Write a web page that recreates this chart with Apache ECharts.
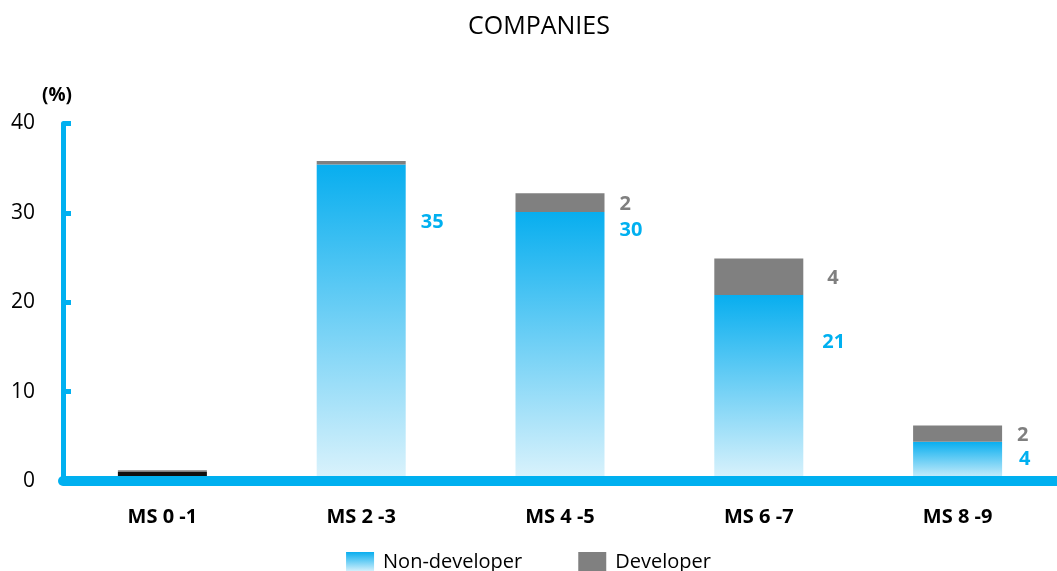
<!DOCTYPE html>
<html>
<head>
<meta charset="utf-8">
<script src="https://cdn.jsdelivr.net/npm/echarts@6/dist/echarts.min.js"></script>
<style>
  html, body { margin: 0; padding: 0; background: #fff; }
  #chart { width: 1057px; height: 571px; }
</style>
</head>
<body>
<div id="chart"></div>
<script>
// data
const categories = ['MS 0 -1', 'MS 2 -3', 'MS 4 -5', 'MS 6 -7', 'MS 8 -9']
const nonDeveloper = [1.0, 35.4, 30.1, 20.8, 4.4]
const developer = [0.2, 0.4, 2.1, 4.1, 1.8]
const yTicks = [0, 10, 20, 30, 40]

// which bars carry a value label
const showNonDevLabel = [false, true, true, true, true]
const showDevLabel = [false, false, true, true, true]
// label nudges (Excel placed them by hand)
const nonDevOffsets = [[0, 0], [10, -101], [10, -116], [14, -46], [12, -2]]
const devOffsets = [[0, 0], [0, 0], [10, 2], [19, 2], [10, 2]]

const BLUE = '#00B0F0'
const GREY = '#808080'
const FONT = 'Open Sans'

const blueGradient = {
  type: 'linear', x: 0, y: 0, x2: 0, y2: 1,
  colorStops: [
    { offset: 0, color: '#08AEEF' },
    { offset: 1, color: '#DCF3FC' }
  ]
}

const chart = echarts.init(document.getElementById('chart'))

const labelStyle = (color) => ({
  position: 'right',
  distance: 5,
  color: color,
  fontFamily: FONT,
  fontWeight: 'bold',
  fontSize: 20,
  formatter: (p) => Math.round(p.value)
})

const nonDevData = nonDeveloper.map((v, i) => ({
  value: v,
  itemStyle: i === 0 ? { color: '#111' } : undefined,
  label: { show: showNonDevLabel[i], offset: nonDevOffsets[i] }
}))

const devData = developer.map((v, i) => ({
  value: v,
  label: { show: showDevLabel[i], offset: devOffsets[i] }
}))

const option = {
  animation: false,
  title: {
    text: 'COMPANIES',
    left: 463,
    top: 9,
    textStyle: { fontFamily: FONT, fontSize: 25, fontWeight: 'normal', color: '#000' }
  },
  legend: {
    top: 547,
    left: 'center',
    itemWidth: 28,
    itemHeight: 20,
    itemGap: 56,
    icon: 'rect',
    textStyle: { fontFamily: FONT, fontSize: 20, color: '#000', padding: [0, 0, 0, 4] },
    data: ['Non-developer', 'Developer']
  },
  grid: { left: 63, right: -8, top: 123.5, bottom: 90, containLabel: false },
  xAxis: {
    type: 'category',
    data: categories,
    z: 5,
    axisLine: { show: true, lineStyle: { color: BLUE, width: 10 } },
    axisTick: { show: false },
    axisLabel: {
      margin: 26,
      fontFamily: FONT,
      fontSize: 20,
      fontWeight: 'bold',
      color: '#000'
    }
  },
  yAxis: {
    type: 'value',
    min: yTicks[0],
    max: yTicks[yTicks.length - 1],
    interval: 10,
    name: '(%)',
    nameLocation: 'end',
    nameGap: 18,
    nameTextStyle: {
      fontFamily: FONT, fontSize: 19, fontWeight: 'bold', color: '#000',
      padding: [0, 12, 0, 0]
    },
    axisLine: { show: true, lineStyle: { color: BLUE, width: 5 } },
    axisTick: { show: true, inside: true, length: 8, lineStyle: { color: BLUE, width: 5 } },
    splitLine: { show: false },
    axisLabel: { margin: 28, fontFamily: FONT, fontSize: 21, color: '#000' }
  },
  series: [
    {
      name: 'Non-developer',
      type: 'bar',
      stack: 'total',
      barWidth: 89,
      itemStyle: { color: blueGradient },
      label: labelStyle(BLUE),
      data: nonDevData
    },
    {
      name: 'Developer',
      type: 'bar',
      stack: 'total',
      barWidth: 89,
      itemStyle: { color: GREY },
      label: labelStyle('#7F7F7F'),
      data: devData
    }
  ]
}

chart.setOption(option)
window.addEventListener('resize', () => chart.resize())
</script>
</body>
</html>
